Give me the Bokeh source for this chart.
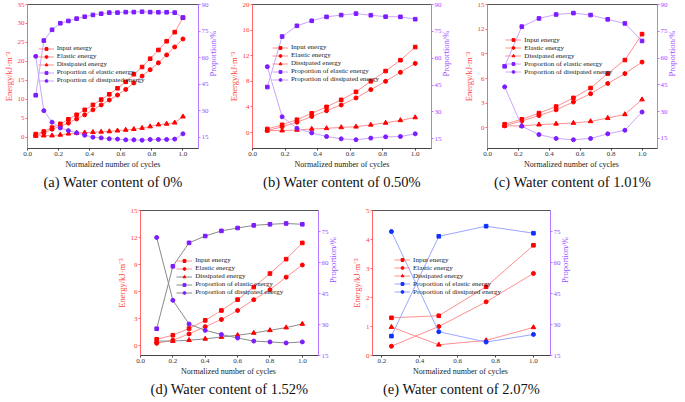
import math
from bokeh.plotting import figure
from bokeh.models import (Range1d, LinearAxis, Legend, LegendItem, FixedTicker,
                          Spacer, PrintfTickFormatter)
from bokeh.layouts import row, column
from bokeh.embed import file_html
from bokeh.resources import INLINE

# ---------------- data ----------------
labels = ["Input energy", "Elastic energy", "Dissipated energy",
          "Proportion of elastic energy", "Proportion of dissipated energy"]

# (a) water content 0%
x_a = [0.053, 0.105, 0.158, 0.211, 0.263, 0.316, 0.368, 0.421, 0.474, 0.526,
       0.579, 0.632, 0.684, 0.737, 0.789, 0.842, 0.895, 0.947, 1.0]
input_a = [0.8, 1.5, 2.5, 3.5, 4.7, 5.9, 7.2, 8.5, 9.9, 11.3, 12.9, 14.6, 16.6,
           18.5, 20.7, 23.0, 25.3, 27.7, 31.5]
elastic_a = [0.5, 1.1, 2.1, 2.9, 3.7, 4.8, 5.9, 7.2, 8.5, 9.8, 11.1, 12.6, 14.3,
             16.1, 17.8, 19.6, 21.7, 23.8, 25.9]
dissip_a = [0.3, 0.4, 0.4, 0.6, 0.9, 1.1, 1.2, 1.3, 1.4, 1.5, 1.7, 1.9, 2.1,
            2.4, 2.8, 3.3, 3.5, 3.8, 5.4]
prop_el_a = [38.7, 69.6, 75.7, 79.4, 80.7, 82.0, 83.1, 84.1, 84.8, 85.4, 85.4,
             85.7, 85.7, 85.9, 85.7, 85.6, 85.6, 85.4, 82.6]
prop_di_a = [60.7, 30.0, 23.5, 20.2, 18.7, 17.4, 16.1, 15.0, 14.6, 14.1, 13.9,
             13.5, 13.5, 13.3, 13.7, 13.7, 13.7, 13.9, 16.9]

# (b) water content 0.50%
x_b = [0.091, 0.182, 0.273, 0.364, 0.455, 0.545, 0.636, 0.727, 0.818, 0.909, 1.0]
input_b = [0.55, 1.2, 2.0, 3.0, 4.0, 5.1, 6.35, 8.0, 9.6, 11.3, 13.35]
elastic_b = [0.3, 0.9, 1.6, 2.5, 3.4, 4.3, 5.4, 6.7, 8.0, 9.4, 10.8]
dissip_b = [0.3, 0.3, 0.4, 0.55, 0.65, 0.8, 0.9, 1.2, 1.5, 1.9, 2.35]
prop_el_b = [43.9, 72.1, 78.1, 80.9, 83.1, 84.1, 84.9, 84.0, 83.2, 83.1, 81.8]
prop_di_b = [55.3, 27.3, 20.9, 18.3, 16.3, 15.0, 14.5, 15.4, 16.1, 16.3, 17.8]

# (c) water content 1.01%
x_c = [0.111, 0.222, 0.333, 0.444, 0.556, 0.667, 0.778, 0.889, 1.0]
input_c = [0.45, 1.05, 1.8, 2.6, 3.65, 4.85, 6.6, 8.25, 11.4]
elastic_c = [0.25, 0.85, 1.5, 2.2, 3.15, 4.15, 5.4, 6.6, 8.0]
dissip_c = [0.25, 0.25, 0.4, 0.5, 0.6, 0.8, 1.2, 1.65, 3.45]
prop_el_c = [55.4, 77.6, 82.2, 84.4, 85.2, 84.1, 81.7, 79.4, 69.6]
prop_di_c = [43.9, 21.9, 17.2, 15.0, 14.3, 15.0, 17.6, 19.6, 29.8]

# (d) water content 1.52%
x_d = [0.1, 0.2, 0.3, 0.4, 0.5, 0.6, 0.7, 0.8, 0.9, 1.0]
input_d = [0.7, 1.15, 1.9, 2.8, 3.9, 5.1, 6.5, 8.0, 9.6, 11.4]
elastic_d = [0.25, 0.6, 1.3, 2.1, 2.9, 3.9, 5.1, 6.2, 7.6, 8.95]
dissip_d = [0.5, 0.5, 0.6, 0.75, 0.95, 1.15, 1.4, 1.7, 2.0, 2.4]
prop_el_d = [28.0, 58.3, 69.7, 73.0, 75.5, 76.9, 78.2, 78.7, 79.1, 78.7]
prop_di_d = [72.3, 41.8, 30.3, 27.2, 25.2, 23.5, 22.0, 21.6, 21.1, 21.6]

# (e) water content 2.07%
x_e = [0.25, 0.5, 0.75, 1.0]
input_e = [1.3, 1.37, 2.37, 3.8]
elastic_e = [0.32, 1.0, 1.85, 2.83]
dissip_e = [0.98, 0.37, 0.52, 0.97]
prop_el_e = [24.4, 72.7, 77.6, 74.2]
prop_di_e = [75.0, 26.5, 21.5, 25.2]

captions = ["(a) Water content of 0%", "(b) Water content of 0.50%",
            "(c) Water content of 1.01%", "(d) Water content of 1.52%",
            "(e) Water content of 2.07%"]
xlabel1 = "Normalized number of cycles"
xlabel2 = "Normalized number  of cycles"
ylabel_left = "Energy/kJ\u00b7m\u207b\u00b3"
ylabel_right = "Proportion/%"

x_ticks = [0.0, 0.2, 0.4, 0.6, 0.8, 1.0]
x_ticks_e = [0.2, 0.4, 0.6, 0.8, 1.0]
lt_a = [0, 5, 10, 15, 20, 25, 30, 35]
lt_b = [0, 4, 8, 12, 16, 20]
lt_c = [0, 3, 6, 9, 12, 15]
lt_e = [0, 1, 2, 3, 4, 5]
rt_1 = [15, 30, 45, 60, 75, 90]
rt_2 = [15, 30, 45, 60, 75]

# ---------------- styling ----------------
SERIF = "Liberation Serif"
RED = "#ff0000"
RED_LINE = "#ff8f8f"
PUR = "#7d1cff"
PUR_LINE = "#c9a6ff"
GRAY_LINE = "#8a8a8a"
BLUE = "#1030ff"
BLUE_LINE = "#9aa6ff"
LEFT_AX = "#ff6666"
LEFT_TXT = "#ff3b3b"
RIGHT_AX = "#b57aff"
RIGHT_TXT = "#9b4dff"


def panel(x, inp, ela, dis, pel, pdi, *, xr, yl, yr, xt, lt, rt, caption, xlabel,
          width, height, bl, br, bt, bb, leg, pcol=PUR, pline=PUR_LINE,
          dline=RED_LINE):
    p = figure(width=width, height=height, x_range=Range1d(*xr),
               y_range=Range1d(*yl), output_backend="svg", toolbar_location=None,
               min_border_left=bl, min_border_right=br, min_border_top=bt,
               min_border_bottom=bb, title=caption, title_location="below")
    p.extra_y_ranges = {"r": Range1d(*yr)}
    p.xgrid.visible = False
    p.ygrid.visible = False
    p.outline_line_color = "#555555"
    p.background_fill_color = "white"
    p.border_fill_color = "white"

    t = p.title
    t.text_font = SERIF
    t.text_font_size = "14.5px"
    t.text_font_style = "normal"
    t.align = "center"
    t.text_color = "#111111"
    if "standoff" in t.properties():
        t.standoff = 0

    xa = p.xaxis[0]
    xa.ticker = FixedTicker(ticks=xt)
    xa.formatter = PrintfTickFormatter(format="%.1f")
    xa.axis_label = xlabel

    ya = p.yaxis[0]
    ya.ticker = FixedTicker(ticks=lt)
    ya.axis_label = ylabel_left

    ra = LinearAxis(y_range_name="r", ticker=FixedTicker(ticks=rt),
                    axis_label=ylabel_right)
    p.add_layout(ra, "right")

    for ax in (xa, ya, ra):
        ax.major_tick_in = 0
        ax.major_tick_out = 2
        ax.minor_tick_in = 0
        ax.minor_tick_out = 0
        ax.major_label_standoff = 1
        ax.axis_label_standoff = 1
        ax.major_label_text_font = SERIF
        ax.major_label_text_font_size = "7px"
        ax.axis_label_text_font = SERIF
        ax.axis_label_text_font_style = "normal"
    xa.axis_label_text_font_size = "8px"
    xa.axis_line_color = "#444444"
    xa.major_tick_line_color = "#444444"
    xa.major_label_text_color = "#333333"
    xa.axis_label_text_color = "#222222"

    ya.axis_label_text_font_size = "8.5px"
    ya.axis_line_color = LEFT_AX
    ya.major_tick_line_color = LEFT_AX
    ya.major_label_text_color = LEFT_TXT
    ya.axis_label_text_color = LEFT_TXT

    ra.axis_label_text_font_size = "8.5px"
    ra.axis_line_color = RIGHT_AX
    ra.major_tick_line_color = RIGHT_AX
    ra.major_label_text_color = RIGHT_TXT
    ra.axis_label_text_color = RIGHT_TXT
    if "axis_label_orientation" in ra.properties():
        ra.axis_label_orientation = math.pi / 2

    items = []
    specs = [
        (inp, RED, RED_LINE, "square", 3.6, "default"),
        (ela, RED, RED_LINE, "circle", 4.0, "default"),
        (dis, RED, dline, "triangle", 4.6, "default"),
        (pel, pcol, pline, "square", 3.6, "r"),
        (pdi, pcol, pline, "circle", 4.0, "r"),
    ]
    for lab, (ys, mc, lc, mk, sz, rn) in zip(labels, specs):
        kw = {} if rn == "default" else {"y_range_name": "r"}
        ln = p.line(x, ys, line_color=lc, line_width=1, **kw)
        sc = p.scatter(x, ys, marker=mk, size=sz, fill_color=mc, line_color=mc,
                       **kw)
        items.append(LegendItem(label=lab, renderers=[ln, sc]))

    fw = width - bl - br
    fh = height - bt - bb
    leg_h = 42
    lx = leg[0] * fw
    ly = fh - leg[1] * fh - leg_h
    legend = Legend(items=items, location=(lx, ly))
    legend.border_line_color = None
    legend.background_fill_alpha = 0
    legend.label_text_font = SERIF
    legend.label_text_font_size = "7px"
    legend.label_text_color = "#222222"
    legend.glyph_width = 16
    legend.glyph_height = 7
    legend.label_height = 7
    legend.spacing = 0
    legend.padding = 0
    legend.margin = 0
    legend.label_standoff = 3
    p.add_layout(legend)
    return p


pa = panel(x_a, input_a, elastic_a, dissip_a, prop_el_a, prop_di_a,
           xr=(0, 1.1), yl=(-3, 35), yr=(8.6, 90), xt=x_ticks, lt=lt_a, rt=rt_1,
           caption=captions[0], xlabel=xlabel1, width=225, height=193,
           bl=21, br=26, bt=4, bb=45, leg=(0.06, 0.264))
pb = panel(x_b, input_b, elastic_b, dissip_b, prop_el_b, prop_di_b,
           xr=(0, 1.1), yl=(-2.5, 20), yr=(9.6, 90), xt=x_ticks, lt=lt_b, rt=rt_1,
           caption=captions[1], xlabel=xlabel1, width=233, height=193,
           bl=22, br=26, bt=4, bb=45, leg=(0.108, 0.26))
pc = panel(x_c, input_c, elastic_c, dissip_c, prop_el_c, prop_di_c,
           xr=(0, 1.1), yl=(-2.5, 15), yr=(9.4, 90), xt=x_ticks, lt=lt_c, rt=rt_1,
           caption=captions[2], xlabel=xlabel2, width=226, height=193,
           bl=29, br=24, bt=4, bb=45, leg=(0.106, 0.207))
pd_ = panel(x_d, input_d, elastic_d, dissip_d, prop_el_d, prop_di_d,
            xr=(0, 1.1), yl=(-1.1, 15), yr=(15, 85.4), xt=x_ticks, lt=lt_c, rt=rt_2,
            caption=captions[3], xlabel=xlabel2, width=235, height=207,
            bl=24, br=30, bt=17, bb=45, leg=(0.2, 0.306),
            pline=GRAY_LINE, dline=GRAY_LINE)
pe = panel(x_e, input_e, elastic_e, dissip_e, prop_el_e, prop_di_e,
           xr=(0.15, 1.09), yl=(0, 5), yr=(15, 85.2), xt=x_ticks_e, lt=lt_e, rt=rt_2,
           caption=captions[4], xlabel=xlabel2, width=232, height=207,
           bl=24, br=30, bt=17, bb=45, leg=(0.124, 0.30),
           pcol=BLUE, pline=BLUE_LINE)

layout = column(row(pa, pb, pc), row(Spacer(width=113, height=207), pd_, pe))

open("out.html", "w").write(file_html(layout, INLINE))
